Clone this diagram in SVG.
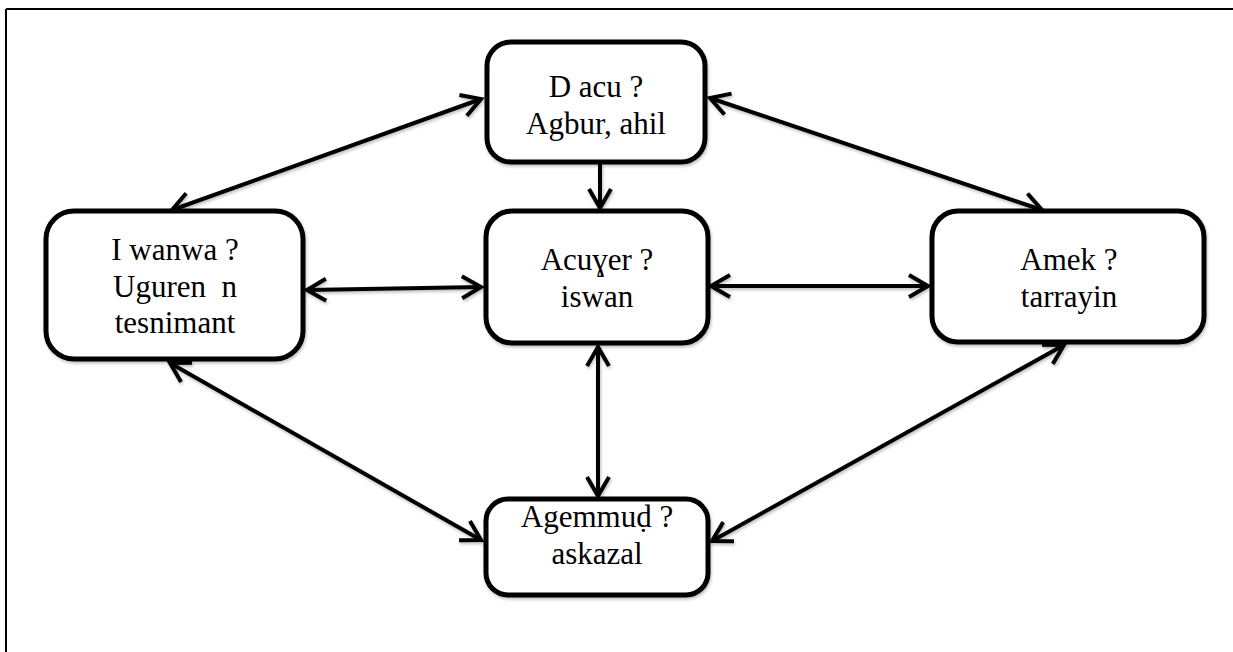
<svg xmlns="http://www.w3.org/2000/svg" width="1233" height="652" viewBox="0 0 1233 652">
<style>
.box{fill:#fff;stroke:#000;stroke-width:5}
.t{font-size:31px;fill:#000;text-anchor:middle;white-space:pre}
.c{fill:none;stroke:#000;stroke-width:4}
.frame{stroke:#000;stroke-width:2}
</style>
<defs>
<marker id="ah" markerUnits="userSpaceOnUse" markerWidth="30" markerHeight="30" viewBox="0 0 30 30" refX="22" refY="15" orient="auto-start-reverse">
<path d="M3,4 L22,15 L3,26" fill="none" stroke="#000" stroke-width="4" stroke-linejoin="miter"/>
</marker>
<filter id="sh" x="-10%" y="-10%" width="120%" height="130%">
<feDropShadow dx="1" dy="2" stdDeviation="1.5" flood-color="#000" flood-opacity="0.25"/>
</filter>
</defs>
<g id="frame">
<line class="frame" x1="6" y1="9" x2="1233" y2="9"/>
<line class="frame" x1="6" y1="9" x2="6" y2="652"/>
</g>
<g id="connectors" filter="url(#sh)">
<line class="c" x1="172" y1="210" x2="481" y2="99" marker-start="url(#ah)" marker-end="url(#ah)"/>
<line class="c" x1="710" y1="98" x2="1042" y2="210" marker-start="url(#ah)" marker-end="url(#ah)"/>
<line class="c" x1="600" y1="164" x2="600" y2="208" marker-end="url(#ah)"/>
<line class="c" x1="307" y1="290" x2="481" y2="287" marker-start="url(#ah)" marker-end="url(#ah)"/>
<line class="c" x1="711" y1="286" x2="928" y2="286" marker-start="url(#ah)" marker-end="url(#ah)"/>
<line class="c" x1="598" y1="347" x2="598" y2="496" marker-start="url(#ah)" marker-end="url(#ah)"/>
<line class="c" x1="170" y1="363" x2="481" y2="540" marker-start="url(#ah)" marker-end="url(#ah)"/>
<line class="c" x1="1064" y1="345" x2="712" y2="541" marker-start="url(#ah)" marker-end="url(#ah)"/>
</g>
<g font-family="'Liberation Serif', 'Times New Roman', 'DejaVu Serif', serif">
<g id="n-top">
<rect class="box" x="487" y="42" width="218" height="120" rx="24" filter="url(#sh)"/>
<text class="t" x="596" y="97">D acu ?</text>
<text class="t" x="596" y="134">Agbur, ahil</text>
</g>
<g id="n-left">
<rect class="box" x="46" y="211" width="257" height="148" rx="28" filter="url(#sh)"/>
<text class="t" x="175" y="260">I wanwa ?</text>
<text class="t" x="175" y="297">Uguren  n</text>
<text class="t" x="175" y="333">tesnimant</text>
</g>
<g id="n-center">
<rect class="box" x="486" y="211" width="222" height="132" rx="26" filter="url(#sh)"/>
<text class="t" x="597" y="270">Acuɣer ?</text>
<text class="t" x="597" y="307">iswan</text>
</g>
<g id="n-right">
<rect class="box" x="932" y="211" width="272" height="131" rx="26" filter="url(#sh)"/>
<text class="t" x="1069" y="270">Amek ?</text>
<text class="t" x="1069" y="307">tarrayin</text>
</g>
<g id="n-bottom">
<rect class="box" x="486" y="499" width="222" height="96" rx="22" filter="url(#sh)"/>
<text class="t" x="597" y="527">Agemmuḍ ?</text>
<text class="t" x="597" y="564">askazal</text>
</g>
</g>
</svg>
